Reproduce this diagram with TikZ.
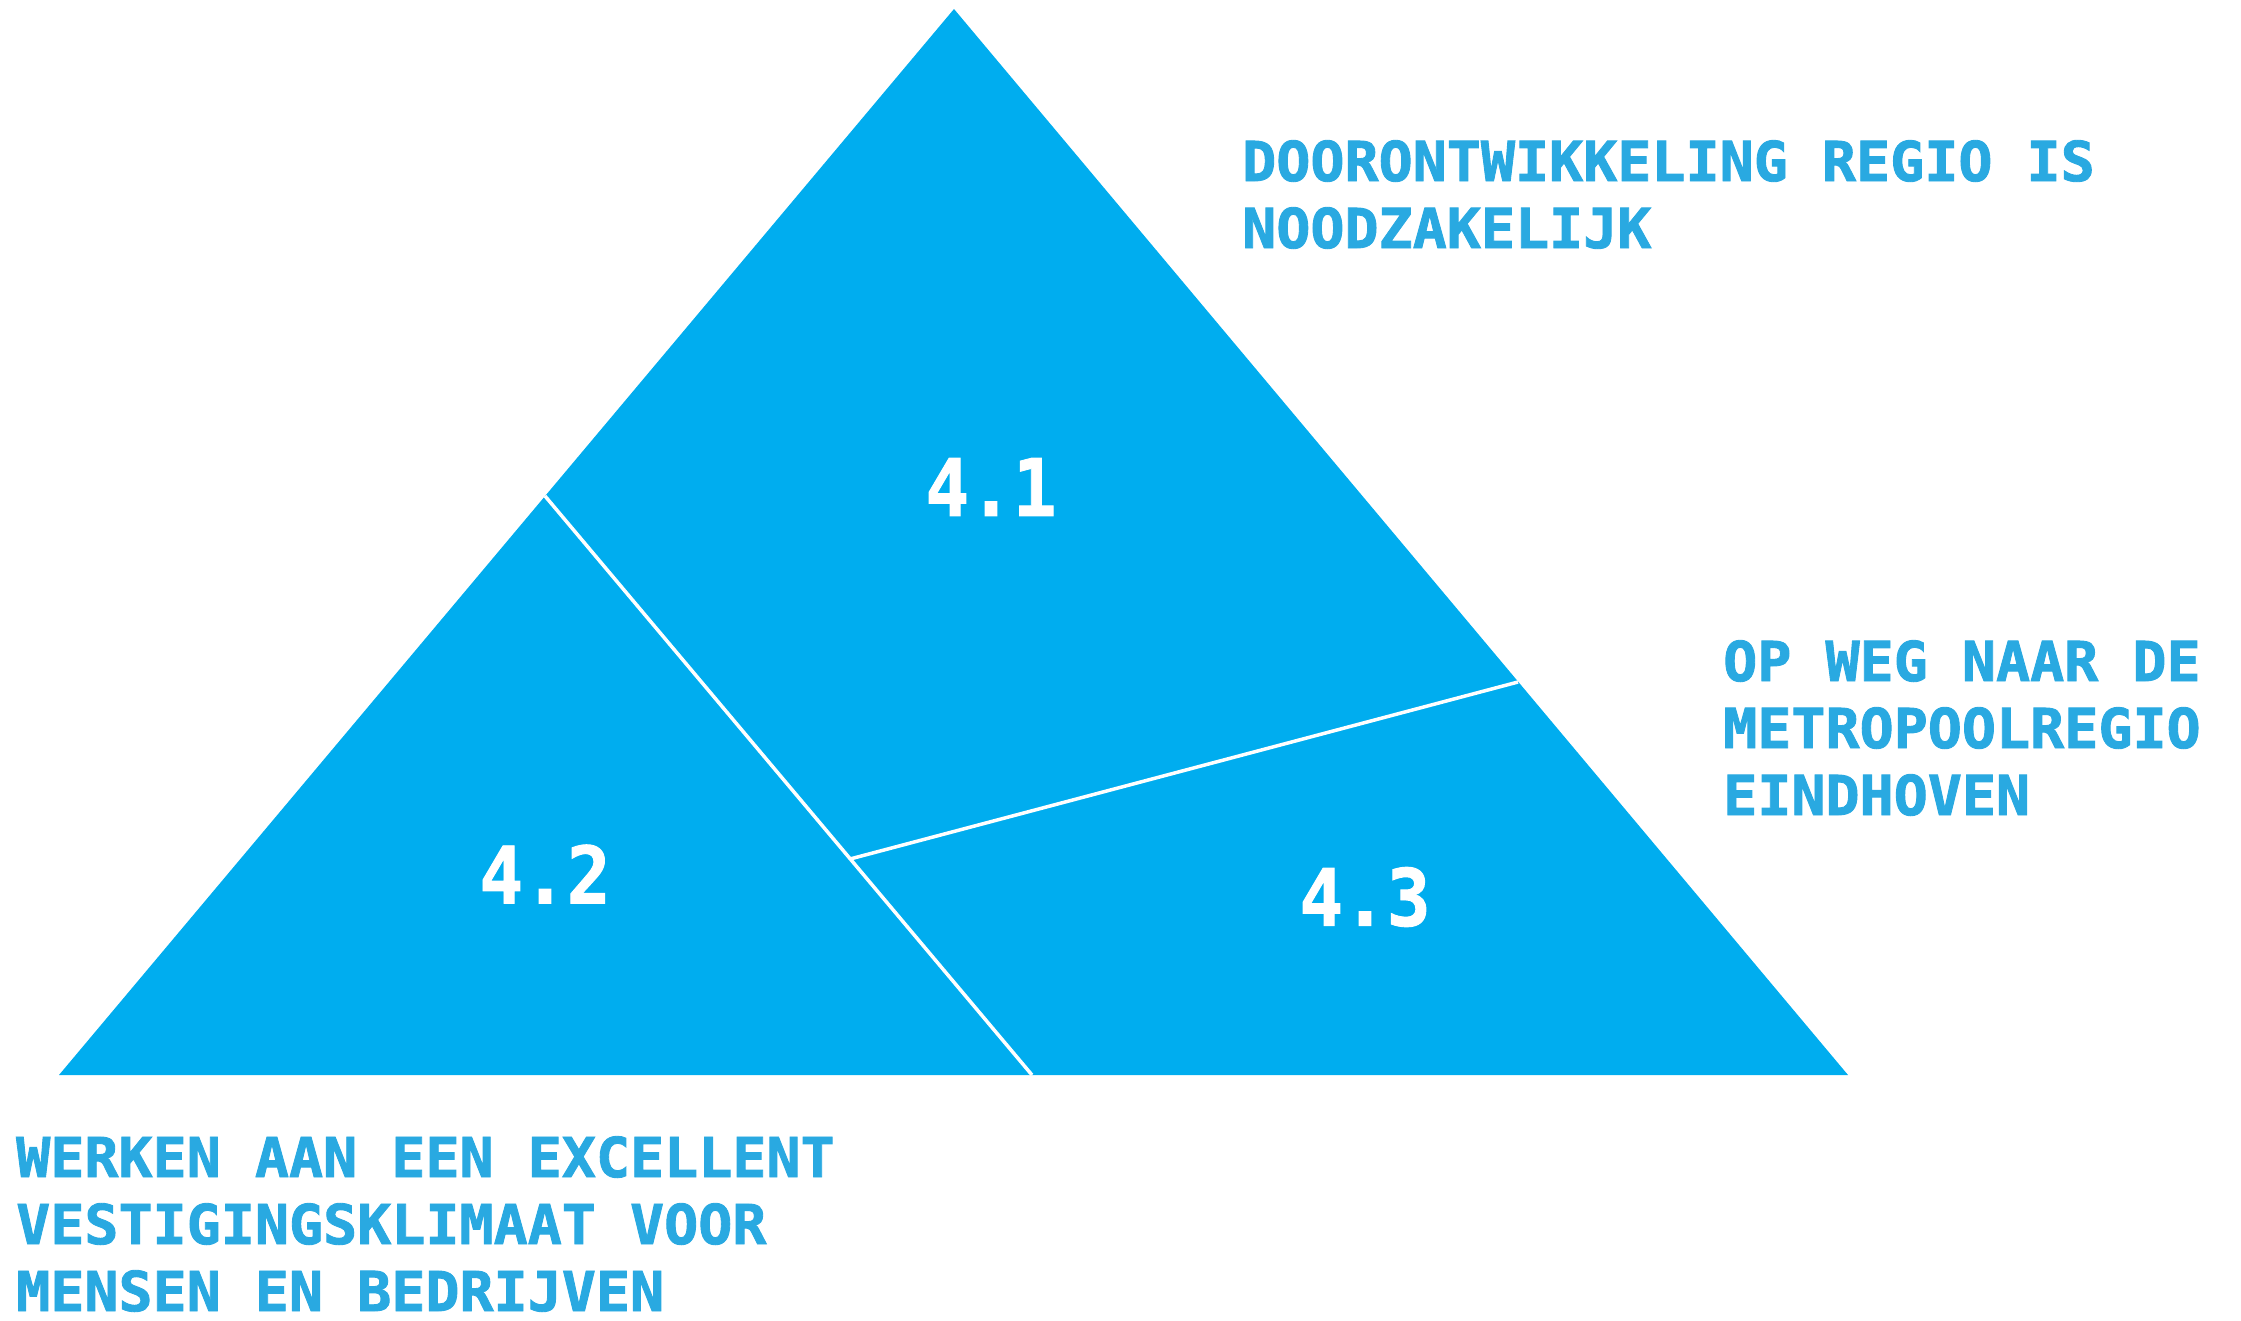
\documentclass[tikz,border=0pt]{standalone}
\usepackage{fontspec}
\newfontfamily\labfont[FakeStretch=1.03,FakeBold=1.6]{DejaVu Sans Mono Bold}
\newfontfamily\numfont[FakeStretch=0.92,FakeBold=1.2]{DejaVu Sans Mono Bold}
\definecolor{triblue}{HTML}{00ADEF}
\definecolor{txtblue}{HTML}{29A9E1}
\begin{document}
\begin{tikzpicture}[x=1pt,y=-1pt,
  caption/.style={anchor=north west,inner sep=0pt,align=left,text=txtblue,
    font=\labfont\fontsize{55}{67}\selectfont},
  numlabel/.style={anchor=center,inner sep=0pt,text=white,
    font=\numfont\fontsize{79}{90}\selectfont},
  divider/.style={draw=white,line width=3.5pt}]
\useasboundingbox (0,0) rectangle (2241,1320);
\coordinate (apex) at (954,9);
\coordinate (bl) at (59,1075);
\coordinate (br) at (1848,1075);
\coordinate (la) at (545,496);
\coordinate (lb) at (1032,1075);
\coordinate (jc) at (850,859);
\coordinate (rc) at (1518,682);
\fill[triblue] (apex) -- (bl) -- (br) -- cycle;
\draw[divider] (la) -- (lb);
\draw[divider] (jc) -- (rc);
\node[numlabel] (n1) at (991,487) {4.1};
\node[numlabel] (n2) at (545,874) {4.2};
\node[numlabel] (n3) at (1365,897) {4.3};
\node[caption] (t1) at (1242,140) {DOORONTWIKKELING REGIO IS\\NOODZAKELIJK};
\node[caption] (t2) at (1723,640) {OP WEG NAAR DE\\METROPOOLREGIO\\EINDHOVEN};
\node[caption] (t3) at (16,1136) {WERKEN AAN EEN EXCELLENT\\VESTIGINGSKLIMAAT VOOR\\MENSEN EN BEDRIJVEN};
\end{tikzpicture}
\end{document}
